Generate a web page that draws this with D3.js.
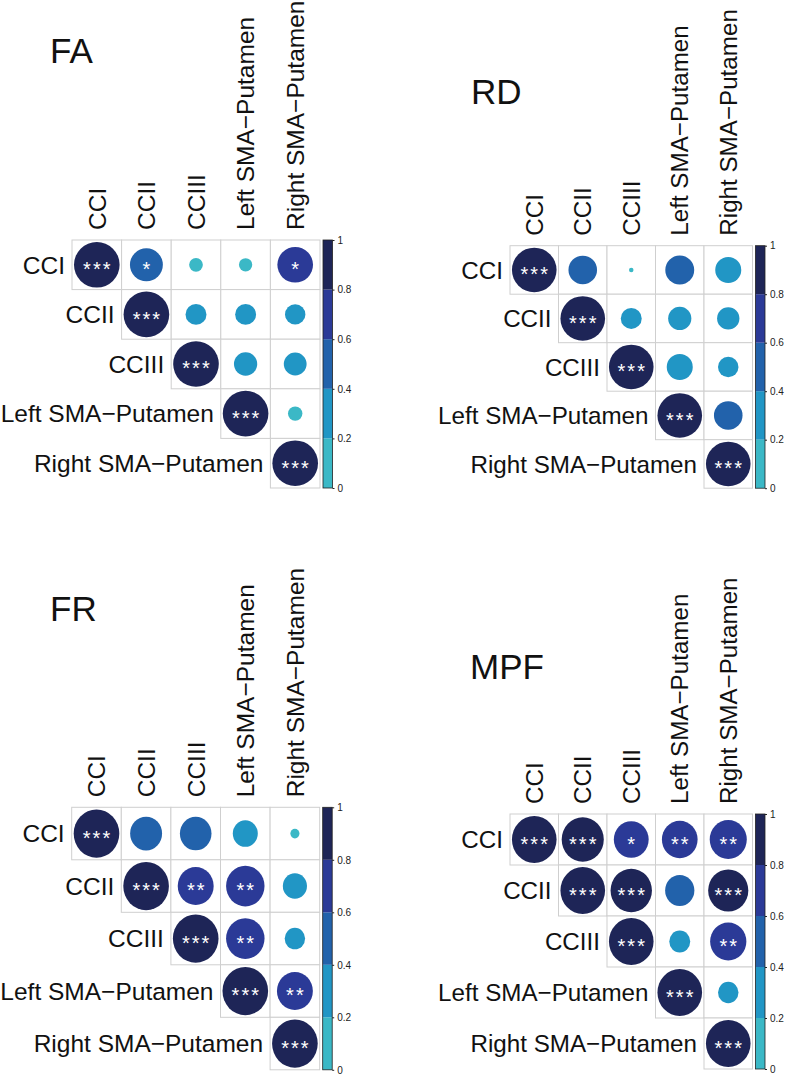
<!DOCTYPE html>
<html>
<head>
<meta charset="utf-8">
<script src="https://cdn.jsdelivr.net/npm/d3@7"></script>
<style>
  html, body { margin: 0; padding: 0; background: #ffffff; }
  svg { display: block; font-family: "Liberation Sans", Arial, Helvetica, sans-serif; }
</style>
</head>
<body>
<svg id="chart" width="787" height="1075"></svg>
<script>
// ---------- data ----------
const variables = ["CCI", "CCII", "CCIII", "Left SMA\u2212Putamen", "Right SMA\u2212Putamen"];

// upper-triangle correlations, row-major (i < j)
const faValues  = [0.52, 0.09, 0.085, 0.61,  0.21, 0.21, 0.20,  0.26, 0.25,  0.10];
const faSig     = ["*", "", "", "*",  "", "", "",  "", "",  ""];
const rdValues  = [0.41, 0.01, 0.42, 0.34,  0.22, 0.27, 0.25,  0.34, 0.21,  0.41];
const rdSig     = ["", "", "", "",  "", "", "",  "", "",  ""];
const frValues  = [0.49, 0.48, 0.30, 0.04,  0.62, 0.71, 0.28,  0.71, 0.20,  0.62];
const frSig     = ["", "", "", "",  "**", "**", "",  "**", "",  "**"];
const mpfValues = [0.89, 0.61, 0.64, 0.69,  0.86, 0.43, 0.81,  0.22, 0.66,  0.21];
const mpfSig    = ["***", "*", "**", "**",  "***", "", "***",  "", "**",  ""];
const diagValue = 1;
const diagSig   = "***";

const colorBreaks = [0.2, 0.4, 0.6, 0.8];
const colorBins   = ["#3bb8c6", "#2196c5", "#2262ab", "#2b3a97", "#1e2557"];
const colorTicks  = [0, 0.2, 0.4, 0.6, 0.8, 1];

const panels = [
  { title: "FA",  values: faValues,  sig: faSig,  x0: 72,   y0: 240,   w: 49.6, h: 49.6, tx: 50,  ty: 63,  fs: 24.5 },
  { title: "RD",  values: rdValues,  sig: rdSig,  x0: 510,  y0: 245.7, w: 48.5, h: 48.5, tx: 471, ty: 104, fs: 24.2 },
  { title: "FR",  values: frValues,  sig: frSig,  x0: 71.7, y0: 807.3, w: 49.6, h: 52.5, tx: 50,  ty: 621, fs: 24.5 },
  { title: "MPF", values: mpfValues, sig: mpfSig, x0: 510,  y0: 814,   w: 48.5, h: 51,   tx: 470, ty: 679, fs: 24.2 }
];

// ---------- drawing ----------
const svg = d3.select("#chart");
const color = d3.scaleThreshold().domain(colorBreaks).range(colorBins);
const n = variables.length;

function buildCells(values, sig) {
  const cells = [];
  let k = 0;
  for (let i = 0; i < n; i++) {
    cells.push({ i, j: i, v: diagValue, s: diagSig });
    for (let j = i + 1; j < n; j++) {
      cells.push({ i, j, v: values[k], s: sig[k] });
      k++;
    }
  }
  return cells;
}

panels.forEach(p => {
  const g = svg.append("g");
  const xs = d3.scaleBand().domain(d3.range(n)).range([p.x0, p.x0 + n * p.w]);
  const ys = d3.scaleBand().domain(d3.range(n)).range([p.y0, p.y0 + n * p.h]);
  const rx = d3.scaleSqrt().domain([0, 1]).range([0, 0.46 * p.w]);
  const ry = d3.scaleSqrt().domain([0, 1]).range([0, 0.46 * p.h]);
  const cells = buildCells(p.values, p.sig);

  // title
  g.append("text").attr("x", p.tx).attr("y", p.ty)
    .attr("font-size", 35).attr("fill", "#111").text(p.title);

  // grid cells
  g.selectAll("rect.cell").data(cells).join("rect")
    .attr("class", "cell")
    .attr("x", d => xs(d.j)).attr("y", d => ys(d.i))
    .attr("width", xs.bandwidth()).attr("height", ys.bandwidth())
    .attr("fill", "#fff").attr("stroke", "#cfcfcf").attr("stroke-width", 1);

  // circles
  g.selectAll("ellipse").data(cells).join("ellipse")
    .attr("cx", d => xs(d.j) + xs.bandwidth() / 2)
    .attr("cy", d => ys(d.i) + ys.bandwidth() / 2)
    .attr("rx", d => rx(d.v)).attr("ry", d => ry(d.v))
    .attr("fill", d => color(d.v));

  // significance stars
  const sfs = 20;
  g.selectAll("text.sig").data(cells.filter(d => d.s)).join("text")
    .attr("class", "sig")
    .attr("x", d => xs(d.j) + xs.bandwidth() / 2 + 1)
    .attr("y", d => ys(d.i) + ys.bandwidth() / 2 + 0.57 * sfs)
    .attr("text-anchor", "middle")
    .attr("font-size", sfs).attr("letter-spacing", 2)
    .attr("fill", "#fff").text(d => d.s);

  // row labels
  g.selectAll("text.row").data(variables).join("text")
    .attr("class", "row")
    .attr("x", (d, i) => xs(i) - 7)
    .attr("y", (d, i) => ys(i) + ys.bandwidth() / 2)
    .attr("dy", "0.36em")
    .attr("text-anchor", "end")
    .attr("font-size", p.fs).attr("fill", "#111").text(d => d);

  // column labels (rotated)
  g.selectAll("text.col").data(variables).join("text")
    .attr("class", "col")
    .attr("transform", (d, i) => `translate(${xs(i) + xs.bandwidth() / 2},${p.y0 - 10}) rotate(-90)`)
    .attr("dy", "0.36em")
    .attr("text-anchor", "start")
    .attr("font-size", p.fs).attr("fill", "#111").text(d => d);

  // colour bar
  const cbX = p.x0 + n * p.w + 3;
  const cbW = 9.5;
  const cy = d3.scaleLinear().domain([0, 1]).range([p.y0 + n * p.h, p.y0]);
  const binEdges = [0].concat(colorBreaks, [1]);
  g.selectAll("rect.cb").data(colorBins).join("rect")
    .attr("class", "cb")
    .attr("x", cbX).attr("width", cbW)
    .attr("y", (d, i) => cy(binEdges[i + 1]))
    .attr("height", (d, i) => cy(binEdges[i]) - cy(binEdges[i + 1]))
    .attr("fill", d => d);
  g.append("rect").attr("x", cbX).attr("y", p.y0)
    .attr("width", cbW).attr("height", n * p.h)
    .attr("fill", "none").attr("stroke", "#222").attr("stroke-width", 0.8);

  const axis = d3.axisRight(cy).tickValues(colorTicks).tickSize(2).tickPadding(3).tickFormat(d3.format(""));
  const ax = g.append("g").attr("transform", `translate(${cbX + cbW},0)`).call(axis);
  ax.select(".domain").remove();
  ax.selectAll("text").attr("font-size", 10).attr("fill", "#222")
    .attr("font-family", "\"Liberation Sans\", Arial, sans-serif");
  ax.selectAll("line").attr("stroke", "#222");
});
</script>
</body>
</html>
